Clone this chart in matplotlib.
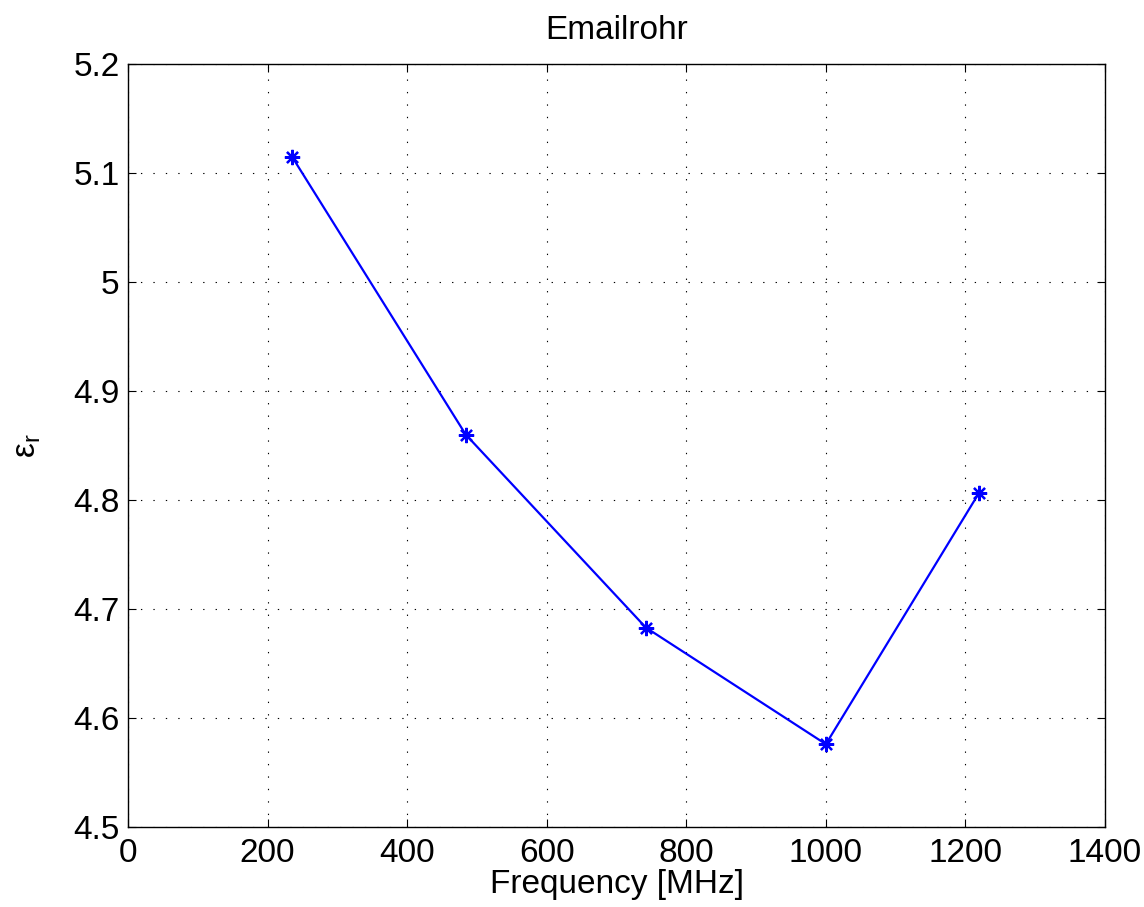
import matplotlib
matplotlib.use("Agg")
import matplotlib.pyplot as plt

freq_mhz = [235, 484, 742, 1000, 1219]
eps_r = [5.115, 4.860, 4.683, 4.576, 4.806]
x_ticks = [0, 200, 400, 600, 800, 1000, 1200, 1400]
y_ticks = [4.5, 4.6, 4.7, 4.8, 4.9, 5.0, 5.1, 5.2]
y_tick_labels = ["4.5", "4.6", "4.7", "4.8", "4.9", "5", "5.1", "5.2"]

plt.rcParams['font.family'] = ['Liberation Sans', 'DejaVu Sans']
plt.rcParams['mathtext.fontset'] = 'custom'
plt.rcParams['mathtext.rm'] = 'Liberation Sans'

fig = plt.figure(figsize=(11.44, 9.07), dpi=100)
ax = fig.add_axes([128/1144, 1-827/907, (1105-128)/1144, (827-64)/907])

ax.plot(freq_mhz, eps_r, color='#0000ff', lw=1.6, marker=(8, 2, 0),
        markersize=11, markeredgewidth=1.6, zorder=3)

ax.set_xlim(0, 1400)
ax.set_ylim(4.5, 5.2)
ax.set_xticks(x_ticks)
ax.set_yticks(y_ticks)
ax.set_yticklabels(y_tick_labels)
ax.tick_params(direction='in', length=6, width=0.8, labelsize=24,
               top=True, right=True, pad=8)
ax.tick_params(axis='y', pad=6)
for s in ax.spines.values():
    s.set_linewidth(1.0)
ax.grid(True, color='black', linestyle=(0, (1.2, 10)), linewidth=0.8)

ax.set_title('Emailrohr', fontsize=24, pad=18)
ax.set_xlabel('Frequency [MHz]', fontsize=24, labelpad=0)
ax.set_ylabel('ε$_\\mathregular{r}$', fontsize=24, labelpad=22)

fig.savefig('out.png', dpi=100)
